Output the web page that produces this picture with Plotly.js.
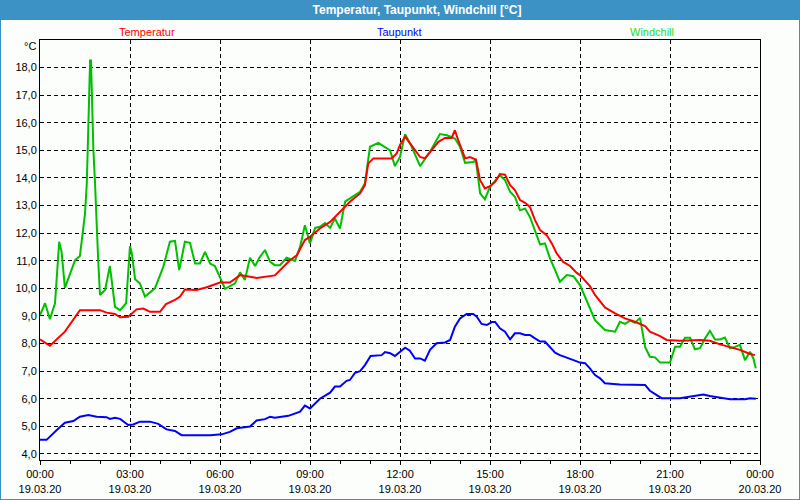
<!DOCTYPE html>
<html>
<head>
<meta charset="utf-8">
<script src="https://cdn.plot.ly/plotly-3.0.1.min.js"></script>
<style>html,body{margin:0;padding:0;background:#fcfefc;}#chart{width:800px;height:500px;}</style>
</head>
<body>
<div id="chart"></div>
<script>
// Hours since 19.03.20 00:00
var tempHours = [0,0.33,0.83,1.33,2.0,2.22,2.5,2.67,2.94,3.22,3.44,3.67,4.0,4.2,4.5,4.67,4.83,5.22,5.56,6.0,6.33,6.67,7.0,7.22,7.83,8.06,8.33,8.56,8.83,9.0,9.33,9.67,10.0,10.33,10.67,10.83,10.94,11.11,11.33,11.72,11.89,12.0,12.17,12.39,12.67,12.83,13.06,13.28,13.5,13.72,13.83,13.94,14.17,14.33,14.53,14.67,14.83,15.0,15.17,15.33,15.5,15.67,15.83,16.0,16.17,16.33,16.5,16.67,16.89,17.06,17.22,17.44,17.67,17.89,18.0,18.33,18.5,18.67,18.83,19.17,19.5,19.83,20.17,20.33,20.67,20.89,21.33,22.0,22.33,22.67,23.0,23.33,23.67,23.83];
var temperatur = [8.15,7.92,8.43,9.21,9.21,9.12,9.07,8.95,8.97,9.24,9.27,9.15,9.15,9.43,9.58,9.70,9.96,9.94,10.04,10.21,10.21,10.48,10.42,10.38,10.47,10.72,11.02,11.20,11.75,11.87,12.17,12.41,12.77,13.14,13.44,13.74,14.52,14.71,14.71,14.71,14.89,15.2,15.5,15.19,14.76,14.71,15.0,15.31,15.45,15.45,15.73,15.37,14.71,14.76,14.67,13.92,13.62,13.70,13.86,14.14,14.12,13.74,13.56,13.20,13.10,12.95,12.47,12.11,11.93,11.63,11.27,10.96,10.81,10.56,10.48,10.08,9.76,9.51,9.31,9.09,8.91,8.79,8.63,8.43,8.27,8.13,8.10,8.13,8.10,7.97,7.86,7.77,7.62,7.58];

var tauHours = [0,0.22,0.56,0.83,1.11,1.33,1.61,1.89,2.22,2.33,2.5,2.67,2.94,3.11,3.33,3.67,3.94,4.22,4.5,4.72,5.67,6.06,6.33,6.56,7.0,7.22,7.5,7.67,7.83,8.28,8.67,8.83,9.0,9.33,9.67,9.83,10.0,10.22,10.33,10.5,10.67,10.83,11.02,11.22,11.39,11.5,11.67,11.83,12.06,12.17,12.33,12.5,12.67,12.83,13.0,13.22,13.5,13.67,13.83,14.0,14.22,14.44,14.56,14.72,14.89,15.06,15.17,15.33,15.5,15.67,15.83,16.0,16.17,16.33,16.5,16.67,16.83,17.0,17.17,17.33,17.5,17.67,17.83,18.0,18.17,18.33,18.5,18.67,18.83,19.33,20.17,20.33,20.5,20.72,21.33,21.67,21.83,22.11,22.33,22.67,23.0,23.5,23.67,23.86];
var taupunkt = [4.51,4.51,4.87,5.13,5.19,5.35,5.41,5.35,5.33,5.27,5.31,5.27,5.05,5.07,5.17,5.17,5.09,4.89,4.83,4.68,4.68,4.71,4.80,4.93,4.99,5.21,5.26,5.35,5.31,5.38,5.53,5.75,5.65,6.00,6.22,6.44,6.44,6.65,6.68,6.94,7.0,7.22,7.55,7.56,7.58,7.69,7.65,7.55,7.77,7.85,7.74,7.46,7.46,7.38,7.77,8.01,8.04,8.13,8.61,8.91,9.07,9.07,8.97,8.71,8.67,8.78,8.78,8.55,8.43,8.15,8.37,8.37,8.31,8.31,8.19,8.07,8.07,7.88,7.67,7.58,7.52,7.46,7.38,7.31,7.29,7.10,6.86,6.74,6.56,6.52,6.50,6.29,6.16,6.02,6.02,6.08,6.12,6.15,6.10,6.03,5.98,5.98,6.02,6.00];

var windHours = [0,0.17,0.33,0.5,0.64,0.72,0.83,1.17,1.33,1.44,1.5,1.56,1.59,1.61,1.64,1.67,1.7,1.72,1.76,1.78,1.83,1.87,1.94,2.0,2.17,2.33,2.39,2.5,2.67,2.87,3.0,3.06,3.17,3.33,3.5,3.83,4.11,4.33,4.5,4.64,4.83,5.0,5.17,5.33,5.5,5.67,5.83,6.0,6.17,6.5,6.67,6.83,7.0,7.17,7.33,7.5,7.67,7.83,8.0,8.22,8.5,8.67,8.83,9.0,9.17,9.33,9.5,9.67,9.83,10.0,10.17,10.5,10.67,10.83,11.0,11.28,11.67,11.83,12.0,12.17,12.39,12.67,13.0,13.33,13.56,13.83,14.0,14.17,14.44,14.53,14.67,14.83,15.0,15.33,15.5,15.67,15.83,16.0,16.17,16.33,16.5,16.67,16.83,17.0,17.17,17.33,17.56,17.78,18.0,18.17,18.33,18.5,18.83,19.17,19.33,19.5,19.67,19.83,20.0,20.17,20.33,20.5,20.67,21.0,21.17,21.33,21.5,21.67,21.83,22.0,22.17,22.33,22.5,22.67,22.83,23.0,23.17,23.33,23.5,23.67,23.78,23.86];
var windchill = [9.03,9.46,8.88,9.46,11.69,11.32,10.02,11.02,11.17,12.05,12.71,13.80,15.0,16.03,17.18,18.26,18.26,17.18,16.05,15.0,13.92,12.71,11.02,9.76,9.94,10.81,10.30,9.33,9.21,9.46,11.53,11.27,10.33,10.18,9.70,10.0,10.78,11.69,11.72,10.66,11.69,11.65,10.90,10.90,11.32,10.90,10.81,10.36,9.98,10.18,10.58,10.30,11.11,10.81,11.14,11.39,10.96,10.84,10.84,11.11,10.99,11.51,12.29,11.63,12.19,12.23,12.37,12.19,12.53,12.17,13.14,13.38,13.50,13.80,15.13,15.27,15.0,14.43,14.76,15.59,15.13,14.43,14.95,15.59,15.55,15.43,15.13,14.55,14.58,14.64,13.44,13.23,13.68,14.10,13.92,13.50,13.32,12.83,12.89,12.59,12.05,11.59,11.63,11.09,10.66,10.24,10.48,10.44,10.12,9.70,9.33,8.85,8.49,8.43,8.79,8.71,8.83,8.75,8.93,7.88,7.52,7.50,7.31,7.31,7.88,7.88,8.21,8.21,7.79,7.83,8.19,8.46,8.15,8.15,8.22,7.83,7.88,7.95,7.40,7.70,7.46,7.10];

var tickHours = [0,3,6,9,12,15,18,21,24];
var tickLabels = ["00:00<br>19.03.20","03:00<br>19.03.20","06:00<br>19.03.20","09:00<br>19.03.20","12:00<br>19.03.20","15:00<br>19.03.20","18:00<br>19.03.20","21:00<br>19.03.20","00:00<br>20.03.20"];
var yTicks = [4,5,6,7,8,9,10,11,12,13,14,15,16,17,18];
var seriesNames = ["Temperatur","Taupunkt","Windchill"];
var seriesColors = ["#ff0000","#0000ff","#00c000"];
var labelColors = ["#ff0000","#0000ff","#22dd22"];
var titleText = "Temperatur, Taupunkt, Windchill [°C]";
var unitText = "°C";

var F = "'Liberation Sans', Arial, sans-serif";
var traces = [
  {x: tempHours, y: temperatur, name: seriesNames[0], mode: "lines", line: {color: seriesColors[0], width: 2}},
  {x: tauHours, y: taupunkt, name: seriesNames[1], mode: "lines", line: {color: seriesColors[1], width: 2}},
  {x: windHours, y: windchill, name: seriesNames[2], mode: "lines", line: {color: seriesColors[2], width: 2}}
];
// Draw order: windchill beneath temperature like the reference
traces = [traces[2], traces[1], traces[0]];

var labelX = [147, 399, 652];
var annotations = seriesNames.map(function(n, i){
  return {text: n, xref: "paper", yref: "paper", x: (labelX[i]-40)/720, y: (460-32)/420,
    xanchor: "center", yanchor: "middle", showarrow: false, font: {family: F, size: 11, color: labelColors[i]}};
});
annotations.push({text: unitText, xref: "paper", yref: "paper", x: (38-40)/720, y: (460-46)/420,
  xanchor: "right", yanchor: "middle", showarrow: false, font: {family: F, size: 11, color: "#000"}});

var layout = {
  width: 800, height: 500,
  margin: {l: 40, r: 40, t: 40, b: 40},
  paper_bgcolor: "#fcfefc",
  plot_bgcolor: "#fcfefc",
  showlegend: false,
  separators: ", ",
  title: {text: "<b>" + titleText + "</b>", font: {family: F, size: 12, color: "#ffffff"},
    xref: "container", x: 417/800, xanchor: "center", yref: "container", y: 1 - 10/500, yanchor: "middle"},
  xaxis: {
    range: [0, 24], tickmode: "array", tickvals: tickHours, ticktext: tickLabels,
    showgrid: true, gridcolor: "#000000", griddash: "4px,3px", gridwidth: 1,
    showline: true, mirror: true, linecolor: "#000000", linewidth: 1,
    ticks: "outside", ticklen: 4, tickcolor: "#000000",
    minor: {dtick: 1, tick0: 0, ticks: "outside", ticklen: 3, tickcolor: "#000000", showgrid: false},
    tickfont: {family: F, size: 11, color: "#000"}, zeroline: false, fixedrange: true
  },
  yaxis: {
    range: [3.78, 19.0], tickmode: "array", tickvals: yTicks, tickformat: ".1f",
    showgrid: true, gridcolor: "#000000", griddash: "4px,3px", gridwidth: 1,
    showline: true, mirror: true, linecolor: "#000000", linewidth: 1,
    ticks: "", tickfont: {family: F, size: 11, color: "#000"}, zeroline: false, fixedrange: true
  },
  shapes: [
    {type: "rect", xref: "paper", yref: "paper", x0: -40/720, x1: 1 + 40/720, y0: (460-20)/420, y1: 460/420,
      fillcolor: "#3c92c4", line: {width: 0}, layer: "below"},
    {type: "rect", xref: "paper", yref: "paper", x0: -40/720, x1: 1 + 40/720, y0: -40/420, y1: 460/420,
      fillcolor: "rgba(0,0,0,0)", line: {color: "#3c92c4", width: 2}, layer: "above"}
  ],
  annotations: annotations
};

Plotly.newPlot("chart", traces, layout, {displayModeBar: false, staticPlot: true});
</script>
</body>
</html>
